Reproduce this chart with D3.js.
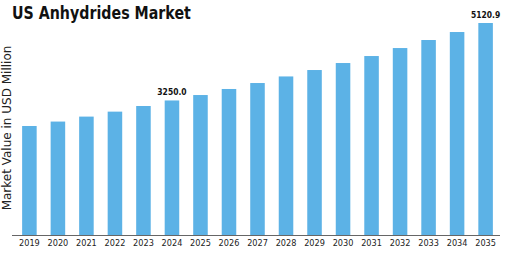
<!DOCTYPE html>
<html>
	<head>
		<title>US Anhydrides Market</title>
		<meta charset="UTF-8">
		<style type="text/css">
			body { margin: 0; background: #fff; }
			text { font-family: "DejaVu Sans", sans-serif; }
		</style>
		<script src="https://d3js.org/d3.v7.min.js"></script>
	</head>
	<body>
		<script type="text/javascript">

			// chart data
			var years = ["2019", "2020", "2021", "2022", "2023", "2024", "2025", "2026", "2027",
				"2028", "2029", "2030", "2031", "2032", "2033", "2034", "2035"];
			var values = [2633, 2740, 2860, 2980, 3116, 3250.0, 3381, 3527, 3671,
				3830, 3985, 4154, 4323, 4516, 4710, 4903, 5120.9];
			var labelled = ["2024", "2035"];

			var width = 505, height = 253;
			var margin = {top: 23, right: 5, bottom: 18, left: 12};
			// squeeze factors so DejaVu looks condensed
			var narrowTick = 0.86, narrowVal = 0.8, narrowTitle = 0.79;

			var svg = d3.select("body")
				.append("svg")
					.attr("width", width)
					.attr("height", height);

			var x = d3.scaleBand()
				.domain(years)
				.range([margin.left + 3, width - margin.right])
				.paddingInner(0.49)
				.paddingOuter(0.25);

			var y = d3.scaleLinear()
				.domain([0, d3.max(values)])
				.range([height - margin.bottom, margin.top]);

			// bars
			svg.selectAll("rect.bar")
				.data(values)
				.enter().append("rect")
					.attr("class", "bar")
					.attr("x", function(d, i) { return x(years[i]); })
					.attr("width", x.bandwidth())
					.attr("y", function(d) { return y(d); })
					.attr("height", function(d) { return y(0) - y(d); })
					.attr("fill", "#5CB2E6");

			// x axis
			var xAxis = d3.axisBottom(x).tickSize(0).tickPadding(4);
			var gx = svg.append("g")
				.attr("transform", "translate(0," + y(0) + ")")
				.call(xAxis);
			gx.select(".domain")
				.attr("d", "M" + margin.left + ",0.5H" + (width - margin.right))
				.attr("stroke", "#666");
			gx.selectAll("text")
				.attr("font-size", 9.5)
				.attr("fill", "#222")
				.attr("font-family", null)
				.attr("transform", "scale(" + narrowTick + ",1)");

			// value labels
			svg.selectAll("text.val")
				.data(values.filter(function(d, i) { return labelled.indexOf(years[i]) >= 0; }))
				.enter().append("text")
					.attr("class", "val")
					.attr("transform", function(d) {
						var cx = x(years[values.indexOf(d)]) + x.bandwidth() / 2;
						return "translate(" + cx + "," + (y(d) - 5) + ") scale(" + narrowVal + ",1)";
					})
					.attr("text-anchor", "middle")
					.attr("font-size", 9.5)
					.attr("font-weight", "bold")
					.attr("fill", "#111")
					.text(function(d) { return d.toFixed(1); });

			// title
			svg.append("text")
				.attr("transform", "translate(12,19) scale(" + narrowTitle + ",1)")
				.attr("font-size", 18)
				.attr("font-weight", "bold")
				.attr("fill", "#111")
				.text("US Anhydrides Market");

			// y axis title
			svg.append("text")
				.attr("transform", "translate(11," + 128 + ") rotate(-90)")
				.attr("text-anchor", "middle")
				.attr("font-size", 12)
				.attr("fill", "#222")
				.text("Market Value in USD Million");

		</script>
	</body>
</html>
